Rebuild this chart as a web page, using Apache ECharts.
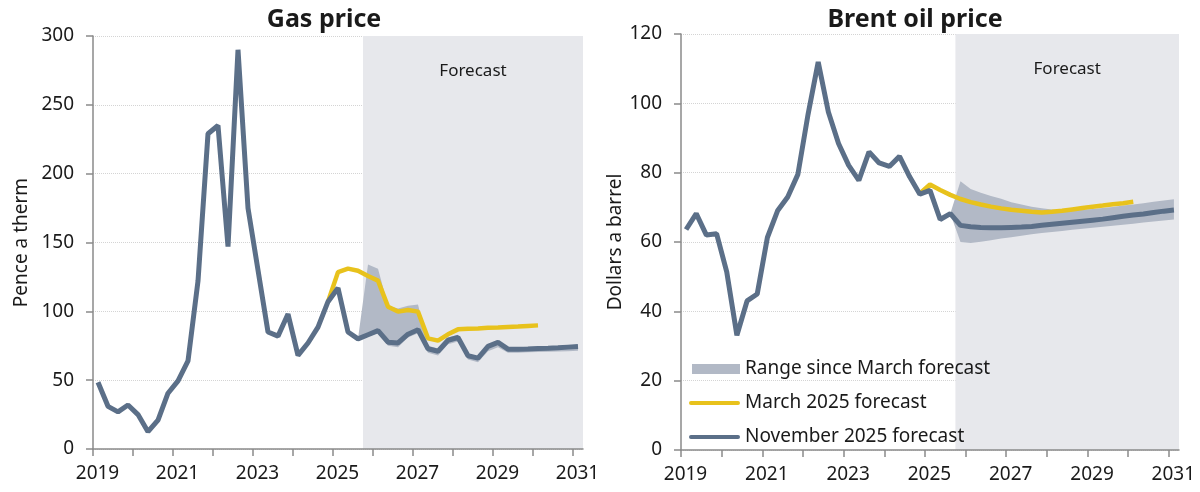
<!DOCTYPE html>
<html>
<head>
<meta charset="utf-8">
<script src="https://cdn.jsdelivr.net/npm/echarts@6/dist/echarts.min.js"></script>
<style>
  html, body { margin: 0; padding: 0; background: #fff; }
  #main { width: 1200px; height: 492px; }
</style>
</head>
<body>
<div id="main"></div>
<script>
// quarter mid-points, Q1 2019 to Q1 2031
var quarters = [
  2019.125, 2019.375, 2019.625, 2019.875,
  2020.125, 2020.375, 2020.625, 2020.875,
  2021.125, 2021.375, 2021.625, 2021.875,
  2022.125, 2022.375, 2022.625, 2022.875,
  2023.125, 2023.375, 2023.625, 2023.875,
  2024.125, 2024.375, 2024.625, 2024.875,
  2025.125, 2025.375, 2025.625, 2025.875,
  2026.125, 2026.375, 2026.625, 2026.875,
  2027.125, 2027.375, 2027.625, 2027.875,
  2028.125, 2028.375, 2028.625, 2028.875,
  2029.125, 2029.375, 2029.625, 2029.875,
  2030.125, 2030.375, 2030.625, 2030.875,
  2031.125
];
var xTicks = [2019, 2020, 2021, 2022, 2023, 2024, 2025, 2026, 2027, 2028, 2029, 2030, 2031];
var xTickLabels = [2019, 2021, 2023, 2025, 2027, 2029, 2031];
var forecastStart = 2025.75;
var forecastEnd = 2031.25;

// gas, pence a therm (outturn + November 2025 forecast, from Q1 2019)
var gasNovember = [
  48.5, 31, 27, 32, 25, 12.6, 21, 40.5, 49.5, 64, 122, 229, 235, 147, 290, 175,
  130, 85, 82, 98, 68, 77, 88.5, 107, 117, 85, 80,
  83, 86, 77.6, 77, 83.4, 86.6, 72.8, 71, 79, 81, 67.7, 66, 74.5, 77.4, 72.5,
  72.5, 72.7, 73, 73.2, 73.5, 74, 74.5
];
// March 2025 forecast, from Q4 2024
var gasMarch = [
  107, 128.5, 131, 129.5, 125.7, 122.3, 103.4, 99.8, 101, 99.8, 80.4, 78.7,
  83.3, 86.9, 87.3, 87.6, 88, 88.3, 88.7, 89, 89.4, 89.8
];
// range since March forecast, from Q3 2025
var gasRangeLow = [
  80, 82, 84, 75, 74, 81, 84, 70, 68, 76, 78, 65, 63, 71, 74, 70,
  70, 70.2, 70.4, 70.6, 70.8, 71, 71.3
];
var gasRangeHigh = [
  80, 134, 131, 104, 102, 104, 105, 75, 73, 81, 83, 69, 67.5, 76, 78.5, 74,
  74, 74.2, 74.4, 74.6, 74.8, 75.2, 75.5
];

// Brent oil, dollars a barrel
var oilNovember = [
  63.6, 68.2, 62, 62.4, 51.4, 33.1, 43, 45, 61.3, 69, 73, 79.5, 96.8, 111.9, 97.5, 88.4,
  82.1, 77.8, 86, 82.8, 81.8, 84.7, 78.8, 73.8, 74.9, 66.5, 68.2,
  64.8, 64.4, 64.2, 64.1, 64.1, 64.2, 64.3, 64.5, 64.8, 65.1, 65.4, 65.7, 66, 66.3,
  66.6, 67, 67.4, 67.8, 68.1, 68.5, 68.9, 69.2
];
var oilMarch = [
  74, 76.6, 75, 73.6, 72.4, 71.5, 70.8, 70.2, 69.7, 69.3, 69, 68.7,
  68.5, 68.7, 69, 69.4, 69.8, 70.2, 70.5, 70.9, 71.2, 71.6
];
var oilRangeLow = [
  68.2, 60, 59.7, 60.1, 60.5, 61, 61.4, 61.8, 62.2, 62.6, 62.9, 63.2,
  63.5, 63.8, 64.1, 64.4, 64.7, 65, 65.3, 65.6, 65.9, 66.2, 66.5
];
var oilRangeHigh = [
  68.2, 77.5, 75.3, 74.2, 73.3, 72.5, 71.5, 70.8, 70.2, 69.7, 69.4, 69.2,
  69.2, 69.3, 69.5, 69.8, 70.1, 70.5, 70.8, 71.2, 71.6, 72, 72.3
];

var FONT = 'Noto Sans';
var TEXT = '#1a1a1a';
var NAVY = '#5b6f88';
var GOLD = '#e8c21c';
var BAND = '#b2b9c6';
var SHADE = '#e7e8ec';

function pairs(values, from) {
  var start = quarters.indexOf(from);
  return values.map(function (v, i) { return [quarters[start + i], v]; });
}

function xAxisFor(grid) {
  return {
    type: 'value', gridIndex: grid, min: 2019, max: forecastEnd, z: 1,
    axisLine: { show: true, lineStyle: { color: '#8a8a8a', width: 1.5 } },
    axisTick: { show: true, length: 7, lineStyle: { color: '#8a8a8a', width: 1.5 }, customValues: xTicks },
    axisLabel: {
      customValues: xTickLabels, color: TEXT, fontFamily: FONT, fontSize: 19, margin: 15, padding: [0, 0, 0, 9],
      formatter: function (v) { return String(v); }
    },
    splitLine: { show: false }
  };
}

function yAxisFor(grid, max, interval, name, gap) {
  return {
    type: 'value', gridIndex: grid, min: 0, max: max, interval: interval, z: 1,
    name: name, nameLocation: 'middle', nameGap: gap,
    nameTextStyle: { color: TEXT, fontFamily: FONT, fontSize: 19 },
    axisLine: { show: true, lineStyle: { color: '#8a8a8a', width: 1.5 } },
    axisTick: { show: true, length: 7, lineStyle: { color: '#8a8a8a', width: 1.5 } },
    axisLabel: { color: TEXT, fontFamily: FONT, fontSize: 19, margin: 19 },
    splitLine: { show: true, lineStyle: { color: '#d4d4d4', type: 'dotted', width: 1 } }
  };
}

function seriesFor(idx, november, march, low, high, yMax) {
  var bandStart = forecastStart - 0.125;
  var lowPts = pairs(low, bandStart);
  var highPts = pairs(high, bandStart);
  var bandData = lowPts.map(function (p, i) { return [p[0], p[1], highPts[i][1]]; });
  return [
    {
      // carries the forecast shading
      type: 'line', xAxisIndex: idx, yAxisIndex: idx, z: 0, silent: true,
      data: pairs(november, 2019.125), showSymbol: false,
      lineStyle: { opacity: 0 },
      markArea: {
        silent: true,
        itemStyle: { color: SHADE },
        label: { show: true, position: 'insideTop', distance: 27, color: TEXT, fontFamily: FONT, fontSize: 17 },
        data: [[{ name: 'Forecast', xAxis: forecastStart, yAxis: yMax }, { xAxis: forecastEnd, yAxis: 0 }]]
      }
    },
    {
      name: 'Range since March forecast', type: 'custom', xAxisIndex: idx, yAxisIndex: idx, z: 2,
      silent: true, data: bandData, encode: { x: 0, y: [1, 2] },
      itemStyle: { color: BAND },
      renderItem: function (params, api) {
        if (params.dataIndex !== 0) return null;
        var top = [], bottom = [];
        bandData.forEach(function (d) {
          top.push(api.coord([d[0], d[2]]));
          bottom.push(api.coord([d[0], d[1]]));
        });
        return {
          type: 'polygon',
          shape: { points: top.concat(bottom.reverse()) },
          style: { fill: BAND }
        };
      }
    },
    {
      name: 'March 2025 forecast', type: 'line', xAxisIndex: idx, yAxisIndex: idx, z: 3,
      data: pairs(march, 2024.875), showSymbol: false,
      lineStyle: { color: GOLD, width: 4.5 }, itemStyle: { color: GOLD }
    },
    {
      name: 'November 2025 forecast', type: 'line', xAxisIndex: idx, yAxisIndex: idx, z: 4,
      data: pairs(november, 2019.125), showSymbol: false,
      lineStyle: { color: NAVY, width: 5 }, itemStyle: { color: NAVY }
    }
  ];
}

function legendRow(name, left, top, icon, w, h, color) {
  return {
    left: left, top: top, orient: 'vertical', selectedMode: false,
    icon: icon, itemWidth: w, itemHeight: h,
    textStyle: { color: TEXT, fontFamily: FONT, fontSize: 19, lineHeight: 20 },
    data: [{ name: name, itemStyle: { color: color } }]
  };
}

var lineIcon = 'path://M2,0 L50,0 A2,2 0 0 1 50,4 L2,4 A2,2 0 0 1 2,0 Z';

var chart = echarts.init(document.getElementById('main'));
chart.setOption({
  animation: false,
  backgroundColor: '#fff',
  textStyle: { fontFamily: FONT },
  title: [
    { text: 'Gas price', left: 319, top: 2, textAlign: 'center',
      textStyle: { color: TEXT, fontFamily: FONT, fontSize: 25, fontWeight: 'bold' } },
    { text: 'Brent oil price', left: 910, top: 2, textAlign: 'center',
      textStyle: { color: TEXT, fontFamily: FONT, fontSize: 25, fontWeight: 'bold' } }
  ],
  grid: [
    { left: 93, top: 36, width: 490, height: 413 },
    { left: 681, top: 34, width: 498, height: 416 }
  ],
  xAxis: [xAxisFor(0), xAxisFor(1)],
  yAxis: [
    yAxisFor(0, 300, 50, 'Pence a therm', 62),
    yAxisFor(1, 120, 20, 'Dollars a barrel', 56)
  ],
  legend: [
    legendRow('Range since March forecast', 687, 354, 'rect', 48, 10, BAND),
    legendRow('March 2025 forecast', 684, 388, lineIcon, 51, 5, GOLD),
    legendRow('November 2025 forecast', 684, 422, lineIcon, 51, 5, NAVY)
  ],
  series: [].concat(
    seriesFor(0, gasNovember, gasMarch, gasRangeLow, gasRangeHigh, 300),
    seriesFor(1, oilNovember, oilMarch, oilRangeLow, oilRangeHigh, 120)
  )
});
</script>
</body>
</html>
